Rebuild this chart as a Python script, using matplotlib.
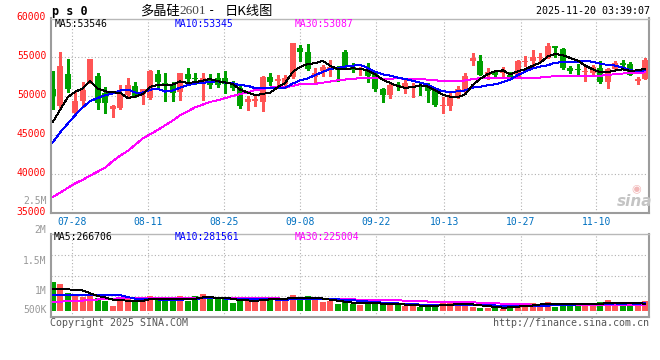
import matplotlib
matplotlib.use('Agg')
import matplotlib.pyplot as plt
import numpy as np

# daily bars, 2025-07-23 .. 2025-11-19 (oldest first)
opens = [50944, 48808, 52865, 47869, 49449, 51798, 52609, 50388, 48424, 48510,
         50175, 51328, 50303, 49791, 52865, 51670, 51542, 50517, 52865, 52350,
         51880, 52140, 52400, 52350, 51500, 51070, 49270, 49360, 49270, 52480,
         52010, 51620, 52440, 56230, 55720, 52480, 53200, 53550, 53720, 55720,
         53718, 53380, 53380, 52950, 50940, 50170, 51500, 51110, 51110, 51450,
         51450, 50900, 48720, 48720, 49910, 50730, 54490, 54490, 52690, 53120,
         52960, 52780, 52440, 54360, 54573, 54960, 54960, 56450, 56070, 53680,
         53550, 53120, 53030, 53590, 51880, 53550, 54320, 54150, 52010, 52265]
highs = [53292, 55683, 54829, 50602, 51798, 54830, 52950, 51157, 48894, 51456,
         52395, 51883, 50950, 53420, 53377, 52950, 51883, 53000, 53591, 53000,
         53030, 52860, 52950, 53200, 51920, 51500, 50000, 50200, 52560, 52990,
         52700, 52700, 56840, 56580, 56790, 53630, 54060, 54700, 53850, 56000,
         54230, 53800, 54230, 53080, 51020, 51670, 51880, 52180, 51670, 51670,
         51670, 51100, 49960, 50600, 51280, 53030, 55600, 55300, 53590, 53290,
         53720, 53120, 54700, 55130, 55940, 55600, 56800, 56500, 56200, 53850,
         54150, 53850, 54060, 54570, 53630, 54490, 54700, 54400, 52440, 54920]
lows = [48424, 48510, 50602, 47656, 48595, 51700, 48381, 47912, 47399, 48400,
        50100, 49919, 49022, 49700, 51029, 49406, 49406, 49535, 51670, 51580,
        49570, 51070, 51200, 50430, 50850, 48500, 48300, 48720, 48160, 51500,
        51500, 51070, 52400, 54530, 53400, 51710, 52560, 52560, 51920, 53630,
        53160, 52735, 51880, 50720, 49320, 49740, 50810, 50380, 49960, 50170,
        49320, 48720, 47820, 48250, 49800, 50500, 54000, 52700, 52180, 52600,
        52520, 52350, 52350, 53850, 53890, 54400, 54900, 55080, 53550, 52990,
        52780, 51920, 52860, 51670, 51070, 53420, 53850, 52700, 51580, 52200]
closes = [50090, 53932, 50944, 49406, 50816, 54787, 49107, 49193, 48766, 50431,
          51456, 50047, 50901, 53207, 51798, 51328, 50388, 52950, 52225, 52220,
          52310, 51500, 51450, 51580, 51070, 48720, 49700, 49700, 52440, 51840,
          52270, 52350, 56840, 55720, 53500, 52990, 53760, 53720, 53420, 53720,
          53400, 53500, 52650, 50950, 50170, 51450, 51330, 51670, 51320, 51330,
          50680, 48890, 48930, 49960, 50940, 52600, 54920, 52780, 53120, 52690,
          53200, 52440, 54570, 54450, 55043, 55040, 56500, 56150, 53680, 53290,
          53420, 53200, 53800, 51800, 53500, 54230, 54060, 52740, 52265, 54660]
ma5 = [46700, 48300, 49900, 50600, 51040, 51980, 51010, 50660, 50530, 50460,
       49790, 49980, 50320, 51210, 51480, 51460, 51520, 51930, 51740, 51820,
       52020, 52240, 51940, 51810, 51580, 50860, 50500, 50150, 50330, 50480,
       51190, 51720, 53150, 53800, 54140, 54280, 54560, 53940, 53490, 53520,
       53600, 53550, 53340, 52840, 52130, 51740, 51310, 51110, 51190, 51420,
       51270, 50780, 50230, 49960, 49880, 50260, 51480, 52250, 52870, 53230,
       53350, 52850, 53210, 53480, 53940, 54320, 55130, 55440, 55290, 54940,
       54610, 53950, 53480, 53100, 53140, 53310, 53480, 53270, 53360, 53546]
ma10 = [44100, 45400, 46500, 47600, 48600, 49400, 49800, 50150, 50380, 50750,
        50880, 50500, 50490, 50870, 50970, 50620, 50750, 51130, 51470, 51650,
        51740, 51880, 51940, 51780, 51700, 51440, 51370, 51050, 51070, 51030,
        51030, 51110, 51650, 52060, 52310, 52740, 53140, 53540, 53640, 53830,
        53940, 54060, 53640, 53170, 52830, 52670, 52430, 52230, 52020, 51780,
        51510, 51040, 50670, 50570, 50650, 50770, 51130, 51240, 51420, 51560,
        51810, 52160, 52730, 53180, 53590, 53830, 53990, 54330, 54380, 54440,
        54460, 54540, 54460, 54200, 54040, 53960, 53710, 53370, 53230, 53345]
ma30 = [37100, 37650, 38250, 38850, 39300, 39850, 40350, 40850, 41700, 42400,
        43000, 43800, 44600, 45150, 45700, 46300, 46900, 47600, 48100, 48600,
        48950, 49300, 49500, 49800, 50050, 50300, 50550, 50800, 50950, 51140,
        51220, 51160, 51360, 51570, 51660, 51600, 51760, 51910, 52060, 52170,
        52240, 52350, 52410, 52330, 52280, 52280, 52320, 52270, 52240, 52210,
        52160, 52070, 51990, 51930, 51930, 52060, 52230, 52340, 52360, 52390,
        52420, 52420, 52350, 52310, 52360, 52420, 52520, 52600, 52610, 52590,
        52590, 52580, 52620, 52650, 52760, 52850, 52940, 52980, 53010, 53087]
volumes = [814, 750, 492, 417, 381, 417, 369, 286, 139, 306,
           325, 306, 306, 417, 325, 286, 286, 417, 286, 417,
           472, 325, 325, 325, 222, 325, 269, 286, 381, 361,
           325, 325, 444, 325, 417, 306, 236, 286, 194, 258,
           186, 167, 258, 214, 194, 175, 167, 147, 147, 119,
           167, 147, 214, 214, 214, 167, 103, 92, 92, 119,
           56, 147, 194, 147, 222, 194, 250, 119, 222, 147,
           194, 222, 147, 250, 306, 222, 222, 167, 147, 269]  # thousand lots
vol_ma5 = [620, 610, 600, 590, 571, 491, 415, 374, 318, 303,
           285, 272, 276, 332, 336, 328, 324, 346, 320, 338,
           376, 383, 365, 373, 334, 304, 293, 285, 297, 324,
           324, 336, 367, 356, 367, 363, 346, 314, 288, 256,
           232, 218, 213, 217, 204, 202, 202, 179, 166, 151,
           149, 145, 159, 172, 191, 191, 182, 158, 134, 115,
           92, 101, 122, 133, 153, 181, 201, 186, 201, 186,
           186, 181, 186, 192, 224, 229, 229, 233, 213, 205]
vol_ma10 = [450, 450, 450, 450, 450, 445, 445, 440, 440, 437,
            388, 344, 325, 325, 320, 307, 298, 311, 326, 337,
            352, 354, 356, 346, 336, 340, 338, 325, 335, 329,
            314, 314, 326, 326, 346, 344, 341, 341, 322, 312,
            298, 282, 263, 252, 230, 217, 210, 196, 191, 177,
            176, 174, 169, 169, 171, 170, 164, 158, 153, 153,
            142, 142, 140, 133, 134, 137, 151, 154, 167, 170,
            184, 191, 186, 197, 205, 208, 205, 210, 202, 215]
vol_ma30 = [250, 260, 270, 280, 290, 300, 320, 340, 345, 350,
            352, 354, 355, 356, 357, 358, 358, 359, 360, 360,
            361, 362, 362, 363, 363, 364, 364, 365, 365, 368,
            351, 337, 336, 333, 334, 330, 326, 326, 328, 326,
            321, 317, 315, 308, 304, 300, 296, 287, 283, 273,
            263, 257, 253, 249, 249, 244, 238, 232, 222, 214,
            205, 199, 191, 185, 178, 175, 175, 169, 170, 167,
            167, 169, 165, 166, 170, 172, 173, 174, 174, 179]

date_labels = ['07-28', '08-11', '08-25', '09-08', '09-22', '10-13', '10-27', '11-10']
date_ticks = [2.61, 12.75, 22.88, 33.01, 43.15, 52.21, 62.4, 72.48]
price_ticks = [35000, 40000, 45000, 50000, 55000, 60000]
vol_labels = ['2M', '1.5M', '1M', '500K']
ma_labels = ['MA5:53546', 'MA10:53345', 'MA30:53087']
vol_ma_labels = ['MA5:266706', 'MA10:281561', 'MA30:225004']

RED = '#ff5555'
GREEN = '#00a000'
BLUE = '#0000ff'
MAGENTA = '#ff00ff'
GRID = '#b0b0b0'
FRAME = '#9c9c9c'
MONO = 'DejaVu Sans Mono'
CJK = ['Noto Sans CJK SC', 'DejaVu Sans']
W, H = 660, 360
LW = 0.7  # about one pixel


def fx(px):
    return px / W


def fy(py):
    return 1 - py / H


def style_frame(a):
    for side in ['left', 'right', 'bottom']:
        a.spines[side].set_color(FRAME)
        a.spines[side].set_linewidth(1.5)
    a.spines['top'].set_color('#b8b8b8')
    a.spines['top'].set_linewidth(1)
    a.grid(True, linestyle=(0, (1, 2)), color=GRID, linewidth=0.8)
    a.set_axisbelow(True)


fig = plt.figure(figsize=(6.6, 3.6), dpi=100)
fig.patch.set_facecolor('white')

x = np.arange(len(closes))
colors = [RED if c >= o else GREEN for o, c in zip(opens, closes)]

# price panel
ax = fig.add_axes([fx(50.7), fy(213.3), fx(649.3) - fx(50.7), fy(18.5) - fy(213.3)])
style_frame(ax)
ax.vlines(x, lows, highs, colors=colors, linewidth=1.0, antialiased=False, zorder=2)
body_lo = np.minimum(opens, closes)
body_h = np.maximum(np.abs(np.subtract(closes, opens)), 130)
ax.bar(x, body_h, bottom=body_lo, width=0.8, color=colors, linewidth=0,
       antialiased=False, zorder=2)
ax.plot(x, ma30, color=MAGENTA, lw=LW, antialiased=False, zorder=3)
ax.plot(x, ma10, color=BLUE, lw=LW, antialiased=False, zorder=3)
ax.plot(x, ma5, color='black', lw=LW, antialiased=False, zorder=3)
ax.set_xlim(-0.27, 79.55)
ax.set_ylim(35000, 60000)
ax.set_yticks(price_ticks)
ax.set_yticklabels([])
ax.set_xticks(date_ticks)
ax.set_xticklabels(date_labels)
ax.tick_params(axis='y', length=0)
ax.tick_params(axis='x', length=0, pad=3, labelcolor='#0070c0', labelsize=7)
for lab in ax.get_xticklabels():
    lab.set_family(MONO)
# price labels sit just above their grid lines
for p in price_ticks:
    ax.annotate(str(p), xy=(0, p), xycoords=('axes fraction', 'data'),
                xytext=(-4.5, 1.5), textcoords='offset pixels', ha='right',
                va='center', fontsize=7, family=MONO, color='#ff0000')

# volume panel
axv = fig.add_axes([fx(50.7), fy(317), fx(649.3) - fx(50.7), fy(234.3) - fy(317)])
style_frame(axv)
axv.bar(x, volumes, width=0.76, color=colors, linewidth=0, antialiased=False, zorder=2)
axv.plot(x, vol_ma30, color=MAGENTA, lw=LW, antialiased=False, zorder=3)
axv.plot(x, vol_ma10, color=BLUE, lw=LW, antialiased=False, zorder=3)
axv.plot(x, vol_ma5, color='black', lw=LW, antialiased=False, zorder=3)
axv.set_xlim(-0.27, 79.55)
vlo, vhi = -167, 2130
axv.set_ylim(vlo, vhi)
axv.set_yticks(np.linspace(vlo, vhi, 5)[1:-1])
axv.set_xticks(date_ticks)
axv.tick_params(length=0, labelleft=False, labelbottom=False)

# header
fig.text(fx(51.5), fy(11), 'p s 0', fontsize=8.5, fontweight='bold', family=MONO, va='center')
fig.text(fx(140), fy(11), '多晶硅', fontsize=9.5, family=CJK, va='center', fontweight='medium')
fig.text(fx(179.5), fy(11.5), '2601', fontsize=9.5, family='Liberation Serif', color='#444444',
         va='center')
fig.text(fx(208), fy(11), '-', fontsize=9, family=MONO, va='center')
fig.text(fx(225), fy(11), '日K线图', fontsize=9.5, family=CJK, va='center', fontweight='medium')
fig.text(fx(649.5), fy(11.5), '2025-11-20 03:39:07', fontsize=7.2, family=MONO,
         ha='right', va='center')

for lab, xp, col in zip(ma_labels, [55, 175, 295], ['black', BLUE, MAGENTA]):
    fig.text(fx(xp), fy(24), lab, fontsize=7, family=MONO, color=col, va='center')
for lab, xp, col in zip(vol_ma_labels, [54, 175, 295], ['black', BLUE, MAGENTA]):
    fig.text(fx(xp), fy(237.5), lab, fontsize=7, family=MONO, color=col, va='center')
fig.text(fx(46.5), fy(200.7), '2.5M', fontsize=7, family=MONO, color='#999999',
         ha='right', va='center')
for lab, yp in zip(vol_labels, [230.5, 260.7, 290.7, 310]):
    fig.text(fx(46.5), fy(yp), lab, fontsize=7, family=MONO, color='#999999',
             ha='right', va='center')
fig.text(fx(49.5), fy(323.5), 'Copyright 2025 SINA.COM', fontsize=7.2, family=MONO,
         color='#555555', va='center')
fig.text(fx(649.5), fy(323.5), 'http://finance.sina.com.cn', fontsize=7.2, family=MONO,
         color='#555555', ha='right', va='center')

# sina watermark
fig.text(fx(635), fy(201), 'sina', fontsize=11, fontstyle='italic', fontweight='bold',
         color='#c4c4c4', ha='center', va='center')
fig.text(fx(636), fy(189), '◉', fontsize=8, color='#f2b8b8', ha='center', va='center')

fig.savefig('out.png', dpi=100)
